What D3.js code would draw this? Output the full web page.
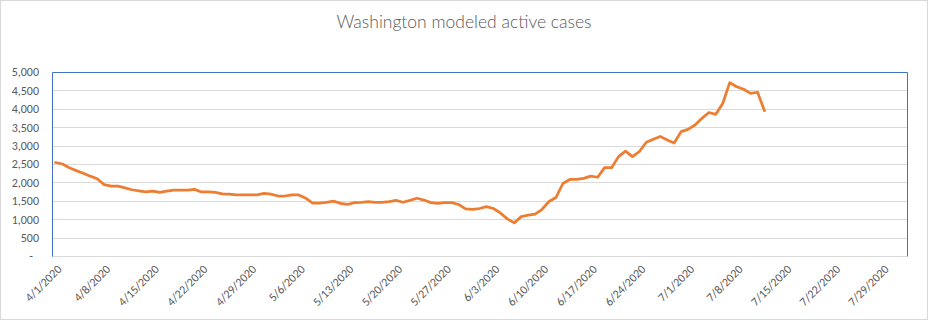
<!DOCTYPE html>
<html>
<head>
<meta charset="utf-8">
<script src="https://cdn.jsdelivr.net/npm/d3@7"></script>
<style>
  html, body { margin: 0; padding: 0; background: #fff; }
  svg { display: block; }
  text { font-family: Calibri, Carlito, "Open Sans", Lato, sans-serif; }
</style>
</head>
<body>
<script>
const title = "Washington modeled active cases";
const startDate = "2020-04-01";
const endDate = "2020-08-01"; // axis extends through 8/1
const activeCases = [
  2540, 2500, 2400, 2320, 2250, 2170, 2100, 1940, 1900, 1900,
  1850, 1800, 1770, 1740, 1760, 1730, 1760, 1790, 1790, 1790,
  1810, 1740, 1740, 1730, 1690, 1680, 1660, 1660, 1660, 1660,
  1700, 1680, 1630, 1630, 1660, 1660, 1570, 1440, 1440, 1460,
  1490, 1430, 1400, 1450, 1460, 1480, 1460, 1460, 1480, 1510,
  1460, 1510, 1570, 1520, 1450, 1430, 1450, 1450, 1400, 1280,
  1270, 1290, 1340, 1290, 1170, 1010, 900, 1070, 1110, 1140,
  1270, 1480, 1590, 1970, 2080, 2080, 2110, 2170, 2140, 2400,
  2400, 2700, 2850, 2700, 2840, 3090, 3170, 3250, 3150, 3070,
  3380, 3440, 3560, 3740, 3900, 3850, 4150, 4710, 4600, 4530,
  4420, 4450, 3950
];
const xTickLabels = ["4/1/2020","4/8/2020","4/15/2020","4/22/2020","4/29/2020","5/6/2020",
  "5/13/2020","5/20/2020","5/27/2020","6/3/2020","6/10/2020","6/17/2020","6/24/2020",
  "7/1/2020","7/8/2020","7/15/2020","7/22/2020","7/29/2020"];
const yTicks = [0, 500, 1000, 1500, 2000, 2500, 3000, 3500, 4000, 4500, 5000];

const W = 929, H = 321;
const plot = { left: 52, top: 72, right: 907, bottom: 256 };

const parse = d3.timeParse("%Y-%m-%d");
const fmtCat = d => (d.getMonth() + 1) + "/" + d.getDate() + "/" + d.getFullYear();
const allDays = d3.timeDay.range(parse(startDate), d3.timeDay.offset(parse(endDate), 1));
const categories = allDays.map(fmtCat);

const x = d3.scaleBand().domain(categories).range([plot.left, plot.right]).padding(0);
const y = d3.scaleLinear().domain([0, 5000]).range([plot.bottom, plot.top]);
const cx = c => x(c) + x.bandwidth() / 2;

const svg = d3.select("body").append("svg").attr("width", W).attr("height", H);

svg.append("rect").attr("x", 0.5).attr("y", 0.5).attr("width", W - 2).attr("height", H - 2)
  .attr("fill", "#fff").attr("stroke", "#d9d9d9");

svg.append("text").attr("x", 464).attr("y", 28).attr("text-anchor", "middle")
  .attr("font-size", 17.5).attr("font-weight", 300).attr("fill", "#595959")
  .style("font-family", "Lato, 'Open Sans', sans-serif")
  .text(title);

// gridlines
svg.append("g").selectAll("line").data(yTicks.filter(v => v > 0)).join("line")
  .attr("x1", plot.left).attr("x2", plot.right)
  .attr("y1", d => Math.round(y(d)) + 0.5).attr("y2", d => Math.round(y(d)) + 0.5)
  .attr("stroke", "#d9d9d9").attr("stroke-width", 1);

// y axis labels
const yAxis = d3.axisLeft(y).tickValues(yTicks).tickSize(0).tickPadding(0)
  .tickFormat(d => d === 0 ? "-" : d3.format(",")(d));
const gy = svg.append("g").attr("transform", `translate(${39},0)`).call(yAxis);
gy.select(".domain").remove();
gy.selectAll("text").attr("font-size", 12).attr("fill", "#595959")
  .style("font-family", "Carlito, Calibri, 'Open Sans', sans-serif")
  .attr("dx", d => d === 0 ? -6 : 0);

// x axis line (bottom)
svg.append("line").attr("x1", plot.left).attr("x2", plot.right)
  .attr("y1", plot.bottom + 0.5).attr("y2", plot.bottom + 0.5).attr("stroke", "#d9d9d9");

// plot border (left, top, right) blue
svg.append("path")
  .attr("d", `M${plot.left + 0.5},${plot.bottom + 0.5}V${plot.top + 0.5}H${plot.right + 0.5}V${plot.bottom + 0.5}`)
  .attr("fill", "none").attr("stroke", "#4472c4").attr("stroke-width", 1);

// x labels
const xAxis = d3.axisBottom(x).tickValues(xTickLabels).tickSize(0).tickPadding(0);
const gx = svg.append("g").attr("transform", `translate(0,${plot.bottom})`).call(xAxis);
gx.select(".domain").remove();
gx.selectAll("text")
  .attr("font-size", 12).attr("fill", "#595959")
  .style("font-family", "Carlito, Calibri, 'Open Sans', sans-serif")
  .attr("text-anchor", "end")
  .attr("transform", "translate(4,11) rotate(-45)")
  .attr("dy", "0.35em").attr("y", 0).attr("x", 0);

// line
const series = activeCases.map((v, i) => ({ c: categories[i], v }));
const line = d3.line().x(d => cx(d.c)).y(d => y(d.v));
svg.append("path").datum(series).attr("d", line)
  .attr("fill", "none").attr("stroke", "#ed7d31").attr("stroke-width", 2.75)
  .attr("stroke-linejoin", "round").attr("stroke-linecap", "round");
</script>
</body>
</html>
